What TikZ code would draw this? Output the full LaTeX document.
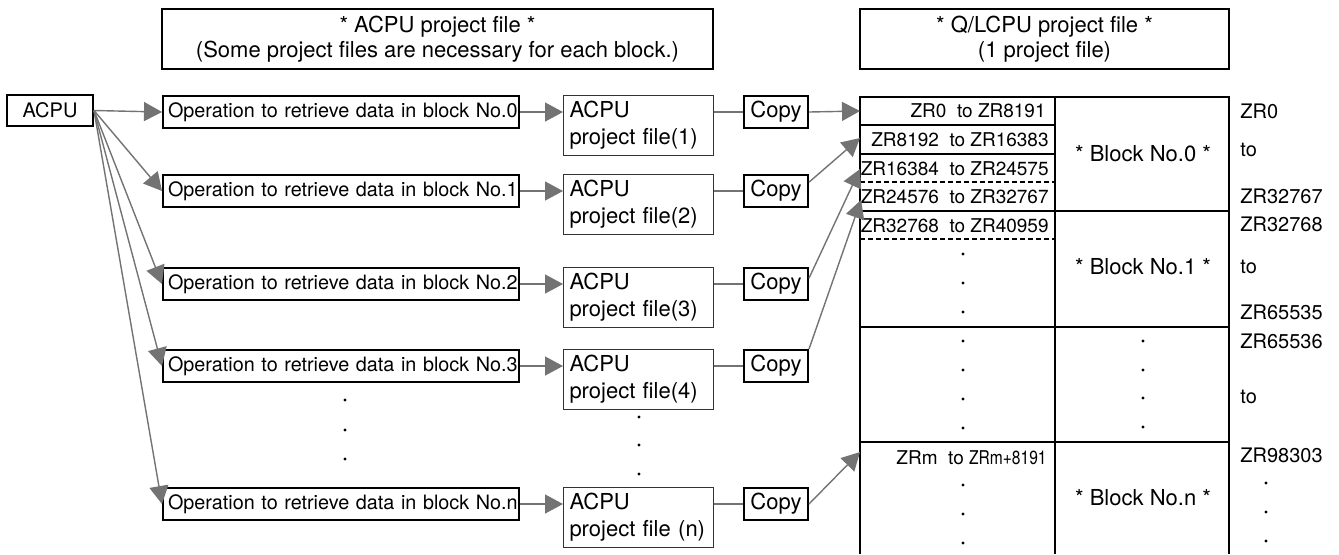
\documentclass[tikz,border=0pt]{standalone}
\usepackage{fontspec}
\setmainfont{TeX Gyre Heros}
\usetikzlibrary{arrows.meta,positioning,calc}

\tikzset{
  hdbox/.style={draw,line width=0.8pt,minimum height=30pt,align=center,
    font=\fontsize{11}{12.5}\selectfont},
  opbox/.style={draw,line width=1pt,anchor=north west,text width=173pt,
    inner xsep=2.5pt,inner ysep=0pt,minimum height=16pt,align=left,font=\fontsize{9.9}{12}\selectfont},
  pfbox/.style={draw=black!80,line width=0.5pt,anchor=north west,text width=69pt,
    inner xsep=3pt,inner ysep=0pt,minimum height=30pt,align=left,font=\fontsize{11}{13.5}\selectfont},
  cpbox/.style={draw,line width=1pt,anchor=north west,minimum width=32pt,
    minimum height=16pt,inner sep=0pt,font=\fontsize{11}{13}\selectfont},
  conn/.style={draw=black!55,line width=0.7pt},
  arr/.style={conn,-{Triangle[length=9pt,width=9.5pt]}},
  tbl/.style={line width=1pt},
  rowtxt/.style={anchor=east,inner sep=0pt,font=\fontsize{9.5}{11}\selectfont},
  blktxt/.style={inner sep=0pt,font=\fontsize{11}{13}\selectfont},
  sidetxt/.style={anchor=west,inner sep=0pt,font=\fontsize{10}{12}\selectfont}
}

\begin{document}
\begin{tikzpicture}[x=0.5pt,y=-0.5pt]
  \useasboundingbox (0,0) rectangle (1339,554);

  % headers
  \node[hdbox,minimum width=275.5pt] (hda) at (437.5,39) {* ACPU project file *\\(Some project files are necessary for each block.)};
  \node[hdbox,minimum width=184.5pt] (hdq) at (1044.5,39) {* Q/LCPU project file *\\(1 project file)};

  \node[draw,line width=1pt,minimum width=43pt,minimum height=15.5pt,inner sep=0pt,
    font=\fontsize{10}{12}\selectfont] (acpu) at (50,110.5) {ACPU};

  % one row per block
  \foreach \i/\t/\f in {0/95/{project file(1)},1/174/{project file(2)},2/267/{project file(3)},
                        3/349/{project file(4)},n/487/{project file (n)}}{
    \node[opbox] (op\i) at (162,\t) {\mbox{Operation to retrieve data in block No.\i}};
    \node[pfbox] (pf\i) at (563,\t) {ACPU\\\mbox{\f}};
    \node[cpbox] (cp\i) at (743,\t) {Copy};
    \draw[arr] (acpu.east) -- (op\i.west);
    \draw[arr] (op\i.east) -- (op\i.east -| pf\i.west);
    \draw[conn] (cp\i.west -| pf\i.east) -- (cp\i.west);
  }

  % table of Q/LCPU project file
  \draw[tbl] (860,554) -- (860,97) -- (1229,97) -- (1229,554);
  \draw[tbl] (1055,97) -- (1055,554);
  \draw[tbl] (860,125) -- (1055,125);
  \draw[tbl] (860,154) -- (1055,154);
  \draw[tbl] (860,211) -- (1229,211);
  \draw[tbl] (860,327) -- (1229,327);
  \draw[tbl] (860,442) -- (1229,442);
  \draw[line width=0.8pt,dash pattern=on 2.5pt off 1.5pt] (860,182) -- (1055,182);
  \draw[line width=0.8pt,dash pattern=on 2.5pt off 1.5pt] (860,239) -- (1055,239);

  \node[rowtxt] (r0) at (1046,111) {ZR0~ to ZR8191};
  \node[rowtxt] (r1) at (1049,140) {ZR8192~ to ZR16383};
  \node[rowtxt] (r2) at (1049,169) {ZR16384~ to ZR24575};
  \node[rowtxt] (r3) at (1049,197) {ZR24576~ to ZR32767};
  \node[rowtxt] (r4) at (1049,226) {ZR32768~ to ZR40959};
  \node[rowtxt] (rm) at (1047,458) {ZRm~ to \scalebox{0.82}[1]{ZRm+8191}};

  \node[blktxt] (b0) at (1143,154) {* Block No.0 *};
  \node[blktxt] (b1) at (1143,267) {* Block No.1 *};
  \node[blktxt] (bn) at (1143,498) {* Block No.n *};

  \node[sidetxt] (s0) at (1240,111) {ZR0};
  \node[sidetxt] (s1) at (1240,150) {to};
  \node[sidetxt] (s2) at (1240,196) {ZR32767};
  \node[sidetxt] (s3) at (1240,224) {ZR32768};
  \node[sidetxt] (s4) at (1240,267) {to};
  \node[sidetxt] (s5) at (1240,312) {ZR65535};
  \node[sidetxt] (s6) at (1240,341) {ZR65536};
  \node[sidetxt] (s7) at (1240,397) {to};
  \node[sidetxt] (s8) at (1240,455) {ZR98303};

  % copy arrows into the table
  \coordinate (t0) at (860,111);
  \coordinate (t1) at (860,138);
  \coordinate (t2) at (860,169);
  \coordinate (t3) at (861,200);
  \coordinate (tn) at (860,452);
  \draw[arr] (cp0.east) -- (t0);
  \draw[arr] (cp1.15) -- (t1);
  \draw[arr] (cp2.10) -- (t2);
  \draw[arr] (cp3.north east) -- (t3);
  \draw[arr] (cpn.east) -- (tn);

  % dots
  \foreach \x/\y in {345/400,345/430,345/459,639/417,639/445,639/474,
                     963/254,963/283,963/312,963/341,963/370,963/399,963/428,
                     1143/341,1143/370,1143/398,1143/427,
                     963/485,963/514,963/543,1266/483,1266/512,1266/541}
    \fill (\x,\y) circle (0.8pt);
\end{tikzpicture}
\end{document}
